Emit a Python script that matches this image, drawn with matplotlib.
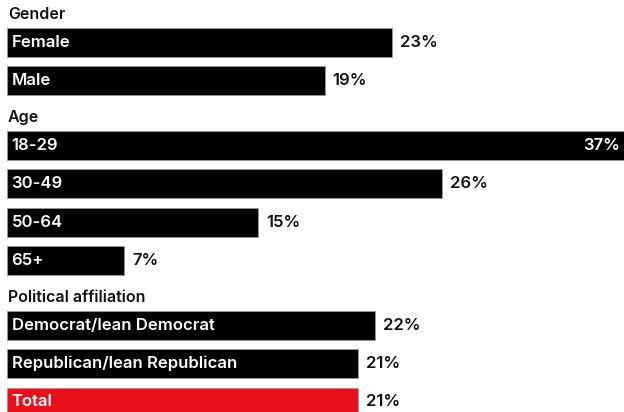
import numpy as np
import matplotlib.pyplot as plt
from matplotlib.transforms import offset_copy

# Data
groups = ["Gender", "Age", "Political affiliation"]
labels = [
    ["Female", "Male"],
    ["18-29", "30-49", "50-64", "65+"],
    ["Democrat/lean Democrat", "Republican/lean Republican", "Total"],
]
values = [
    [23, 19],
    [37, 26, 15, 7],
    [22, 21, 21],
]
highlight = "Total"

plt.rcParams['font.family'] = ['Inter', 'DejaVu Sans']

fig = plt.figure(figsize=(6.24, 4.12), dpi=100)
ax = fig.add_axes([0, 0, 1, 1])

px_per_pct = 16.72
x0 = 7
ax.set_xlim(-x0 / px_per_pct, (624 - x0) / px_per_pct)
ax.set_ylim(412, 0)
ax.axis('off')

pitch = 38.5
bar_h = 29
head_to_bar = 28
bar_to_head = 36.5
fs = 12
fw = 'semibold'
y = 14  # first heading
for g, labs, vals in zip(groups, labels, values):
    ax.text(0, y, g, transform=offset_copy(ax.transData, fig=fig, x=1, y=0, units='dots'),
            fontsize=fs - 0.5, fontweight=fw, va='center', ha='left', color='#111111')
    yc = y + head_to_bar
    for lab, v in zip(labs, vals):
        color = '#e8101c' if lab == highlight else 'black'
        ax.barh(yc, v, height=bar_h, left=0, color=color, edgecolor='#999999', linewidth=0.6)
        ax.text(0, yc, lab, transform=offset_copy(ax.transData, fig=fig, x=4.5, y=0, units='dots'),
                fontsize=fs, fontweight=fw, color='white', va='center', ha='left')
        if v * px_per_pct + x0 > 580:
            ax.text(v, yc, f"{v}%", transform=offset_copy(ax.transData, fig=fig, x=-6, y=0, units='dots'),
                    fontsize=fs, fontweight=fw, color='white', va='center', ha='right')
        else:
            ax.text(v, yc, f"{v}%", transform=offset_copy(ax.transData, fig=fig, x=8, y=0, units='dots'),
                    fontsize=fs, fontweight=fw, color='#111111', va='center', ha='left')
        yc += pitch
    y = yc - pitch + bar_to_head

fig.savefig("out.png", dpi=100)
